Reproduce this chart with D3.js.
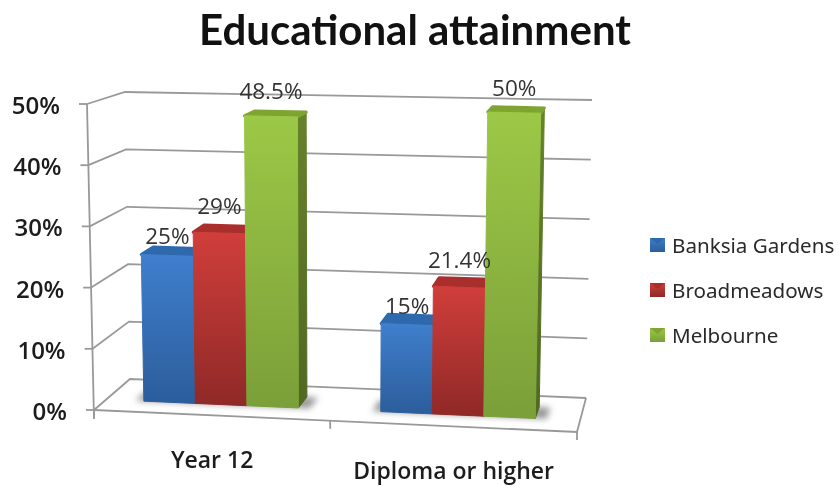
<!DOCTYPE html>
<html>
<head>
<meta charset="utf-8">
<script src="https://cdnjs.cloudflare.com/ajax/libs/d3/7.8.5/d3.min.js"></script>
<style>
  html, body { margin: 0; background: #fff; }
  svg { display: block; filter: blur(0.45px); }
  text { fill: #1c1c1c; }
</style>
</head>
<body>
<div id="chart"></div>
<script>
const title = "Educational attainment"
const categories = ["Year 12", "Diploma or higher"]
const seriesNames = ["Banksia Gardens", "Broadmeadows", "Melbourne"]
const banksia = [25, 15]
const broadmeadows = [29, 21.4]
const melbourne = [48.5, 50]
const seriesValues = [banksia, broadmeadows, melbourne]
const valueTicks = [0, 10, 20, 30, 40, 50]

const width = 839, height = 486

// colours per series: front top, front bottom, roof, side top, side bottom
const colours = [
    { light: "#3f7fcd", dark: "#2c5d9b", roof: "#2f69ad", side: "#25507f", sideDark: "#1f4269" },
    { light: "#d03e3b", dark: "#8f2927", roof: "#a92f2d", side: "#7e2422", sideDark: "#6b1f1d" },
    { light: "#9cc846", dark: "#7b9f39", roof: "#7ea531", side: "#66822c", sideDark: "#4f6823" }
]
const labelLift = [11, 19, 17]

// corners of the chart box on screen, named front/back left/right bottom/top
const box = {
    flb: [94, 410], frb: [577, 432], blb: [130, 379], brb: [586, 398],
    flt: [87, 104], frt: [584, 116], blt: [125, 92], brt: [592, 100]
}

function lerp(a, b, t) { return [a[0] + (b[0] - a[0]) * t, a[1] + (b[1] - a[1]) * t] }

// u across the floor, d into the depth, v up the wall (all 0..1)
function project(u, d, v) {
    const bottom = lerp(lerp(box.flb, box.frb, u), lerp(box.blb, box.brb, u), d)
    const top = lerp(lerp(box.flt, box.frt, u), lerp(box.blt, box.brt, u), d)
    return lerp(bottom, top, v)
}

const yScale = d3.scaleLinear().domain([0, 50]).range([0, 1])
// bars sit a touch lower than the walls, the box perspective is not exact
const barTop = d3.scaleLinear().domain([0, 50]).range([-0.012, 0.988])
const x0 = d3.scaleBand().domain(categories).range([-0.0075, 0.9925])
const x1 = d3.scaleBand().domain(seriesNames).range([0, x0.bandwidth()]).paddingOuter(0.8)
const depth = d3.scaleLinear().domain([0, 1]).range([0.34, 0.68])
const axisBreaks = [0, 0.489, 1]

const line = d3.line()
const closed = d3.line().curve(d3.curveLinearClosed)

const svg = d3.select("#chart").append("svg")
    .attr("width", width)
    .attr("height", height)

const defs = svg.append("defs")
defs.append("filter").attr("id", "soft")
    .attr("x", "-20%").attr("y", "-50%").attr("width", "140%").attr("height", "200%")
    .append("feGaussianBlur").attr("stdDeviation", 3)

colours.forEach((c, i) => {
    const front = defs.append("linearGradient").attr("id", "front" + i)
        .attr("x1", 0).attr("y1", 0).attr("x2", 0).attr("y2", 1)
    front.append("stop").attr("offset", 0).attr("stop-color", c.light)
    front.append("stop").attr("offset", 1).attr("stop-color", c.dark)
    const side = defs.append("linearGradient").attr("id", "side" + i)
        .attr("x1", 0).attr("y1", 0).attr("x2", 0).attr("y2", 1)
    side.append("stop").attr("offset", 0).attr("stop-color", c.side)
    side.append("stop").attr("offset", 1).attr("stop-color", c.sideDark)
})

svg.append("text")
    .attr("x", 415)
    .attr("y", 45)
    .attr("text-anchor", "middle")
    .style("font", "bold 42px Lato")
    .style("fill", "#111")
    .text(title)

// walls
const grid = svg.append("g")
    .attr("fill", "none")
    .attr("stroke", "#999")
    .attr("stroke-width", 1.8)

grid.selectAll(".wall")
    .data(valueTicks)
    .join("path")
    .attr("class", "wall")
    .attr("d", t => {
        const v = yScale(t)
        return line([project(0, 0, v), project(0, 1, v), project(1, 1, v)])
    })

// floor front and right edge
grid.append("path").attr("d", line([project(0, 0, 0), project(1, 0, 0), project(1, 1, 0)]))

// value axis
grid.append("path").attr("d", line([project(0, 0, 1), lerp(project(0, 0, 0), [94, 419], 1)]))
grid.selectAll(".tick")
    .data(valueTicks)
    .join("path")
    .attr("class", "tick")
    .attr("d", t => {
        const p = project(0, 0, yScale(t))
        return line([[p[0] - 8, p[1]], p])
    })

svg.selectAll(".yLabel")
    .data(valueTicks)
    .join("text")
    .attr("class", "yLabel")
    .attr("x", t => project(0, 0, yScale(t))[0] - 27)
    .attr("y", t => project(0, 0, yScale(t))[1] + 10)
    .attr("text-anchor", "end")
    .style("font", "600 24px 'Open Sans'")
    .text(t => t + "%")

// category axis
grid.selectAll(".catTick")
    .data(axisBreaks)
    .join("path")
    .attr("class", "catTick")
    .attr("d", u => {
        const p = project(u, 0, 0)
        return line([p, [p[0], p[1] + 8]])
    })

svg.selectAll(".catLabel")
    .data(d3.pairs(axisBreaks))
    .join("text")
    .attr("class", "catLabel")
    .attr("x", (d, i) => project((d[0] + d[1]) / 2, 0, 0)[0])
    .attr("y", (d, i) => project((d[0] + d[1]) / 2, 0, 0)[1] + 53)
    .attr("text-anchor", "middle")
    .style("font", "600 23px 'Open Sans'")
    .text((d, i) => categories[i])

// soft shadow under each bar group
svg.selectAll(".shadow")
    .data(categories)
    .join("path")
    .attr("class", "shadow")
    .attr("fill", "#999")
    .attr("filter", "url(#soft)")
    .attr("d", c => {
        const u0 = x0(c) + x1(seriesNames[0]) - 0.018
        const u1 = x0(c) + x1(seriesNames[2]) + x1.bandwidth() + 0.024
        return closed([project(u0, depth(0), 0), project(u1, depth(0), 0), project(u1, depth(1), 0), project(u0, depth(1), 0)])
    })

// bars, drawn left to right so each one hides its neighbour's side
categories.forEach((cat, c) => {
    seriesNames.forEach((name, s) => {
        const u0 = x0(cat) + x1(name)
        const u1 = u0 + x1.bandwidth()
        const d0 = depth(0), d1 = depth(1)
        const v = barTop(seriesValues[s][c])
        const bar = svg.append("g")
            .attr("stroke-linejoin", "round")
            .attr("stroke-width", 1)

        bar.append("path")
            .attr("fill", `url(#side${s})`).attr("stroke", `url(#side${s})`)
            .attr("d", closed([project(u1, d0, v), project(u1, d1, v), project(u1, d1, 0), project(u1, d0, 0)]))
        bar.append("path")
            .attr("fill", colours[s].roof).attr("stroke", colours[s].roof)
            .attr("stroke-width", 3)
            .attr("d", closed([project(u0, d0, v), project(u1, d0, v), project(u1, d1, v), project(u0, d1, v)]))
        bar.append("path")
            .attr("fill", `url(#front${s})`).attr("stroke", `url(#front${s})`)
            .attr("d", closed([project(u0, d0, v), project(u1, d0, v), project(u1, d0, 0), project(u0, d0, 0)]))
    })
})

// value labels go on top of everything
categories.forEach((cat, c) => {
    seriesNames.forEach((name, s) => {
        const value = seriesValues[s][c]
        const p = project(x0(cat) + x1(name) + x1.bandwidth() / 2, depth(0), barTop(value))
        svg.append("text")
            .attr("x", p[0])
            .attr("y", p[1] - labelLift[s])
            .attr("text-anchor", "middle")
            .style("font", "22.5px 'Open Sans'")
            .style("fill", "#333")
            .text(value + "%")
    })
})

// legend
const legendY = d3.scalePoint().domain(seriesNames).range([253, 343])
const legend = svg.selectAll(".legend")
    .data(seriesNames)
    .join("g")
    .attr("class", "legend")
    .attr("transform", d => `translate(650,${legendY(d)})`)

legend.append("rect")
    .attr("y", -15)
    .attr("width", 15)
    .attr("height", 14)
    .attr("fill", (d, i) => `url(#front${i})`)
legend.append("path")
    .attr("fill", (d, i) => colours[i].roof)
    .attr("d", closed([[0, -15], [15, -15], [7.5, -9]]))
legend.append("text")
    .attr("x", 22)
    .attr("y", 0)
    .style("font", "20.6px 'Noto Sans'")
    .style("fill", "#2a2a2a")
    .text(d => d)
</script>
</body>
</html>
